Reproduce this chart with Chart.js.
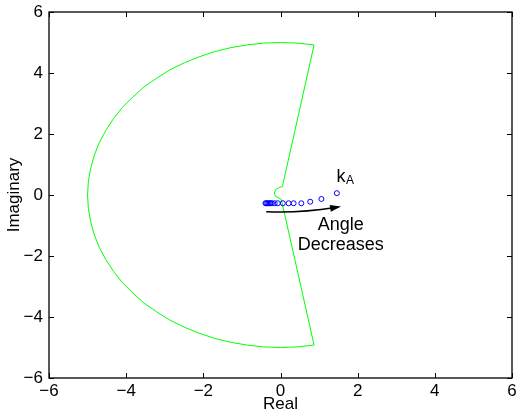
<!DOCTYPE html>
<html>
<head>
<meta charset="utf-8">
<title>Nyquist contour</title>
<script src="https://cdn.jsdelivr.net/npm/chart.js@4/dist/chart.umd.min.js"></script>
<style>
  html, body { margin: 0; padding: 0; background: #fff; }
  canvas { display: block; }
</style>
</head>
<body>
<canvas id="contourChart" width="517" height="414"></canvas>
<script>
// Green contour: big arc (radius 5) from 80 deg round to 280 deg, then back in to the origin
const contourX = [0.87, 0.44, 0, -0.44, -0.87, -1.29, -1.71, -2.11, -2.5, -2.87, -3.21,
  -3.54, -3.83, -4.1, -4.33, -4.53, -4.7, -4.83, -4.92, -4.98, -5,
  -4.98, -4.92, -4.83, -4.7, -4.53, -4.33, -4.1, -3.83, -3.54, -3.21,
  -2.87, -2.5, -2.11, -1.71, -1.29, -0.87, -0.44, 0, 0.44, 0.87,
  0.02, -0.04, -0.13, -0.16, -0.12, -0.03, 0.05, 0.87];
const contourY = [4.92, 4.98, 5, 4.98, 4.92, 4.83, 4.7, 4.53, 4.33, 4.1, 3.83,
  3.54, 3.21, 2.87, 2.5, 2.11, 1.71, 1.29, 0.87, 0.44, 0,
  -0.44, -0.87, -1.29, -1.71, -2.11, -2.5, -2.87, -3.21, -3.54, -3.83,
  -4.1, -4.33, -4.53, -4.7, -4.83, -4.92, -4.98, -5, -4.98, -4.92,
  -0.14, -0.1, -0.04, 0.07, 0.18, 0.25, 0.28, 4.92];

// Blue circles (closed-loop roots as k_A changes)
const rootX = [1.46, 1.06, 0.77, 0.54, 0.34, 0.21, 0.06, -0.07, -0.15, -0.22, -0.25, -0.28, -0.31, -0.34, -0.37, -0.39];
const rootY = [0.06, -0.13, -0.22, -0.27, -0.27, -0.27, -0.27, -0.27, -0.27, -0.27, -0.27, -0.27, -0.27, -0.27, -0.27, -0.27];

const tickValues = [-6, -4, -2, 0, 2, 4, 6];

const FONT = "'Liberation Sans', Arial, Helvetica, sans-serif";

Chart.defaults.color = "#000";
Chart.defaults.font.family = FONT;

function toPoints(xs, ys) {
  return xs.map((x, i) => ({ x: x, y: ys[i] }));
}

function formatTick(v) {
  return v < 0 ? "\u2212" + Math.abs(v) : String(v);
}

// Box around the plot, ticks pointing inward, arrow and text notes
const axesFrame = {
  id: "axesFrame",
  afterDraw(chart) {
    const { ctx, chartArea: a, scales } = chart;
    const xs = scales.x;
    const ys = scales.y;
    const tickLen = 5;

    ctx.save();
    ctx.strokeStyle = "#000";
    ctx.lineWidth = 1.3;
    ctx.strokeRect(a.left, a.top, a.right - a.left, a.bottom - a.top);

    ctx.lineWidth = 1;
    ctx.beginPath();
    tickValues.forEach((v) => {
      const px = Math.round(xs.getPixelForValue(v)) + 0.5;
      ctx.moveTo(px, a.bottom);
      ctx.lineTo(px, a.bottom - tickLen);
      ctx.moveTo(px, a.top);
      ctx.lineTo(px, a.top + tickLen);
      const py = Math.round(ys.getPixelForValue(v)) + 0.5;
      ctx.moveTo(a.left, py);
      ctx.lineTo(a.left + tickLen, py);
      ctx.moveTo(a.right, py);
      ctx.lineTo(a.right - tickLen, py);
    });
    ctx.stroke();

    // curved arrow
    const sx = xs.getPixelForValue(-0.37), sy = ys.getPixelForValue(-0.55);
    const cx = xs.getPixelForValue(0.49), cy = ys.getPixelForValue(-0.6);
    const ex = xs.getPixelForValue(1.57), ey = ys.getPixelForValue(-0.38);
    ctx.lineWidth = 1.5;
    ctx.beginPath();
    ctx.moveTo(sx, sy);
    ctx.quadraticCurveTo(cx, cy, ex - 6, ey + 1);
    ctx.stroke();
    const ang = Math.atan2(ey - cy, ex - cx);
    const headLen = 11, headHalf = 3.5;
    ctx.fillStyle = "#000";
    ctx.beginPath();
    ctx.moveTo(ex, ey);
    ctx.lineTo(ex - headLen * Math.cos(ang) + headHalf * Math.sin(ang),
               ey - headLen * Math.sin(ang) - headHalf * Math.cos(ang));
    ctx.lineTo(ex - headLen * Math.cos(ang) - headHalf * Math.sin(ang),
               ey - headLen * Math.sin(ang) + headHalf * Math.cos(ang));
    ctx.closePath();
    ctx.fill();

    // text notes
    ctx.textBaseline = "alphabetic";
    ctx.textAlign = "left";
    ctx.font = "18px " + FONT;
    const kx = xs.getPixelForValue(1.45), ky = ys.getPixelForValue(0.44);
    ctx.fillText("k", kx, ky);
    const kw = ctx.measureText("k").width;
    ctx.font = "12px " + FONT;
    ctx.fillText("A", kx + kw + 0.5, ky + 2.5);

    ctx.textAlign = "center";
    ctx.font = "18px " + FONT;
    ctx.fillText("Angle", xs.getPixelForValue(1.56), ys.getPixelForValue(-1.15));
    ctx.fillText("Decreases", xs.getPixelForValue(1.56), ys.getPixelForValue(-1.8));
    ctx.restore();
  },
};

const ctx = document.getElementById("contourChart").getContext("2d");
new Chart(ctx, {
  type: "scatter",
  data: {
    datasets: [
      {
        label: "Roots",
        data: toPoints(rootX, rootY),
        showLine: false,
        pointStyle: "circle",
        pointRadius: 2.5,
        pointBorderWidth: 1,
        borderColor: "#0000ff",
        backgroundColor: "rgba(0,0,0,0)",
        order: 0,
      },
      {
        label: "Contour",
        data: toPoints(contourX, contourY),
        showLine: true,
        tension: 0,
        pointRadius: 0,
        borderWidth: 1,
        borderColor: "#00ff00",
        backgroundColor: "rgba(0,0,0,0)",
        order: 1,
      },
    ],
  },
  options: {
    responsive: false,
    animation: false,
    events: [],
    layout: { padding: { top: 12, right: 4, left: 0, bottom: 0 } },
    plugins: {
      legend: { display: false },
      tooltip: { enabled: false },
    },
    scales: {
      x: {
        type: "linear",
        min: -6,
        max: 6,
        afterBuildTicks: (scale) => {
          scale.ticks = tickValues.map((v) => ({ value: v }));
        },
        afterFit: (scale) => {
          scale.height = 36;
          scale.paddingLeft = 0;
          scale.paddingRight = 0;
        },
        grid: { display: false, drawTicks: false },
        border: { display: false },
        ticks: {
          padding: 3,
          maxRotation: 0,
          autoSkip: false,
          font: { size: 17 },
          callback: (v) => formatTick(v),
        },
        title: {
          display: true,
          text: "Real",
          font: { size: 17 },
          padding: { top: 0, bottom: -1 },
        },
      },
      y: {
        type: "linear",
        min: -6,
        max: 6,
        afterBuildTicks: (scale) => {
          scale.ticks = tickValues.map((v) => ({ value: v }));
        },
        afterFit: (scale) => {
          scale.width = 49;
          scale.paddingTop = 0;
          scale.paddingBottom = 0;
        },
        grid: { display: false, drawTicks: false },
        border: { display: false },
        ticks: {
          padding: 6,
          autoSkip: false,
          font: { size: 17 },
          callback: (v) => formatTick(v),
        },
        title: {
          display: true,
          text: "Imaginary",
          font: { size: 17 },
          padding: { top: 4, bottom: 0 },
        },
      },
    },
  },
  plugins: [axesFrame],
});
</script>
</body>
</html>
